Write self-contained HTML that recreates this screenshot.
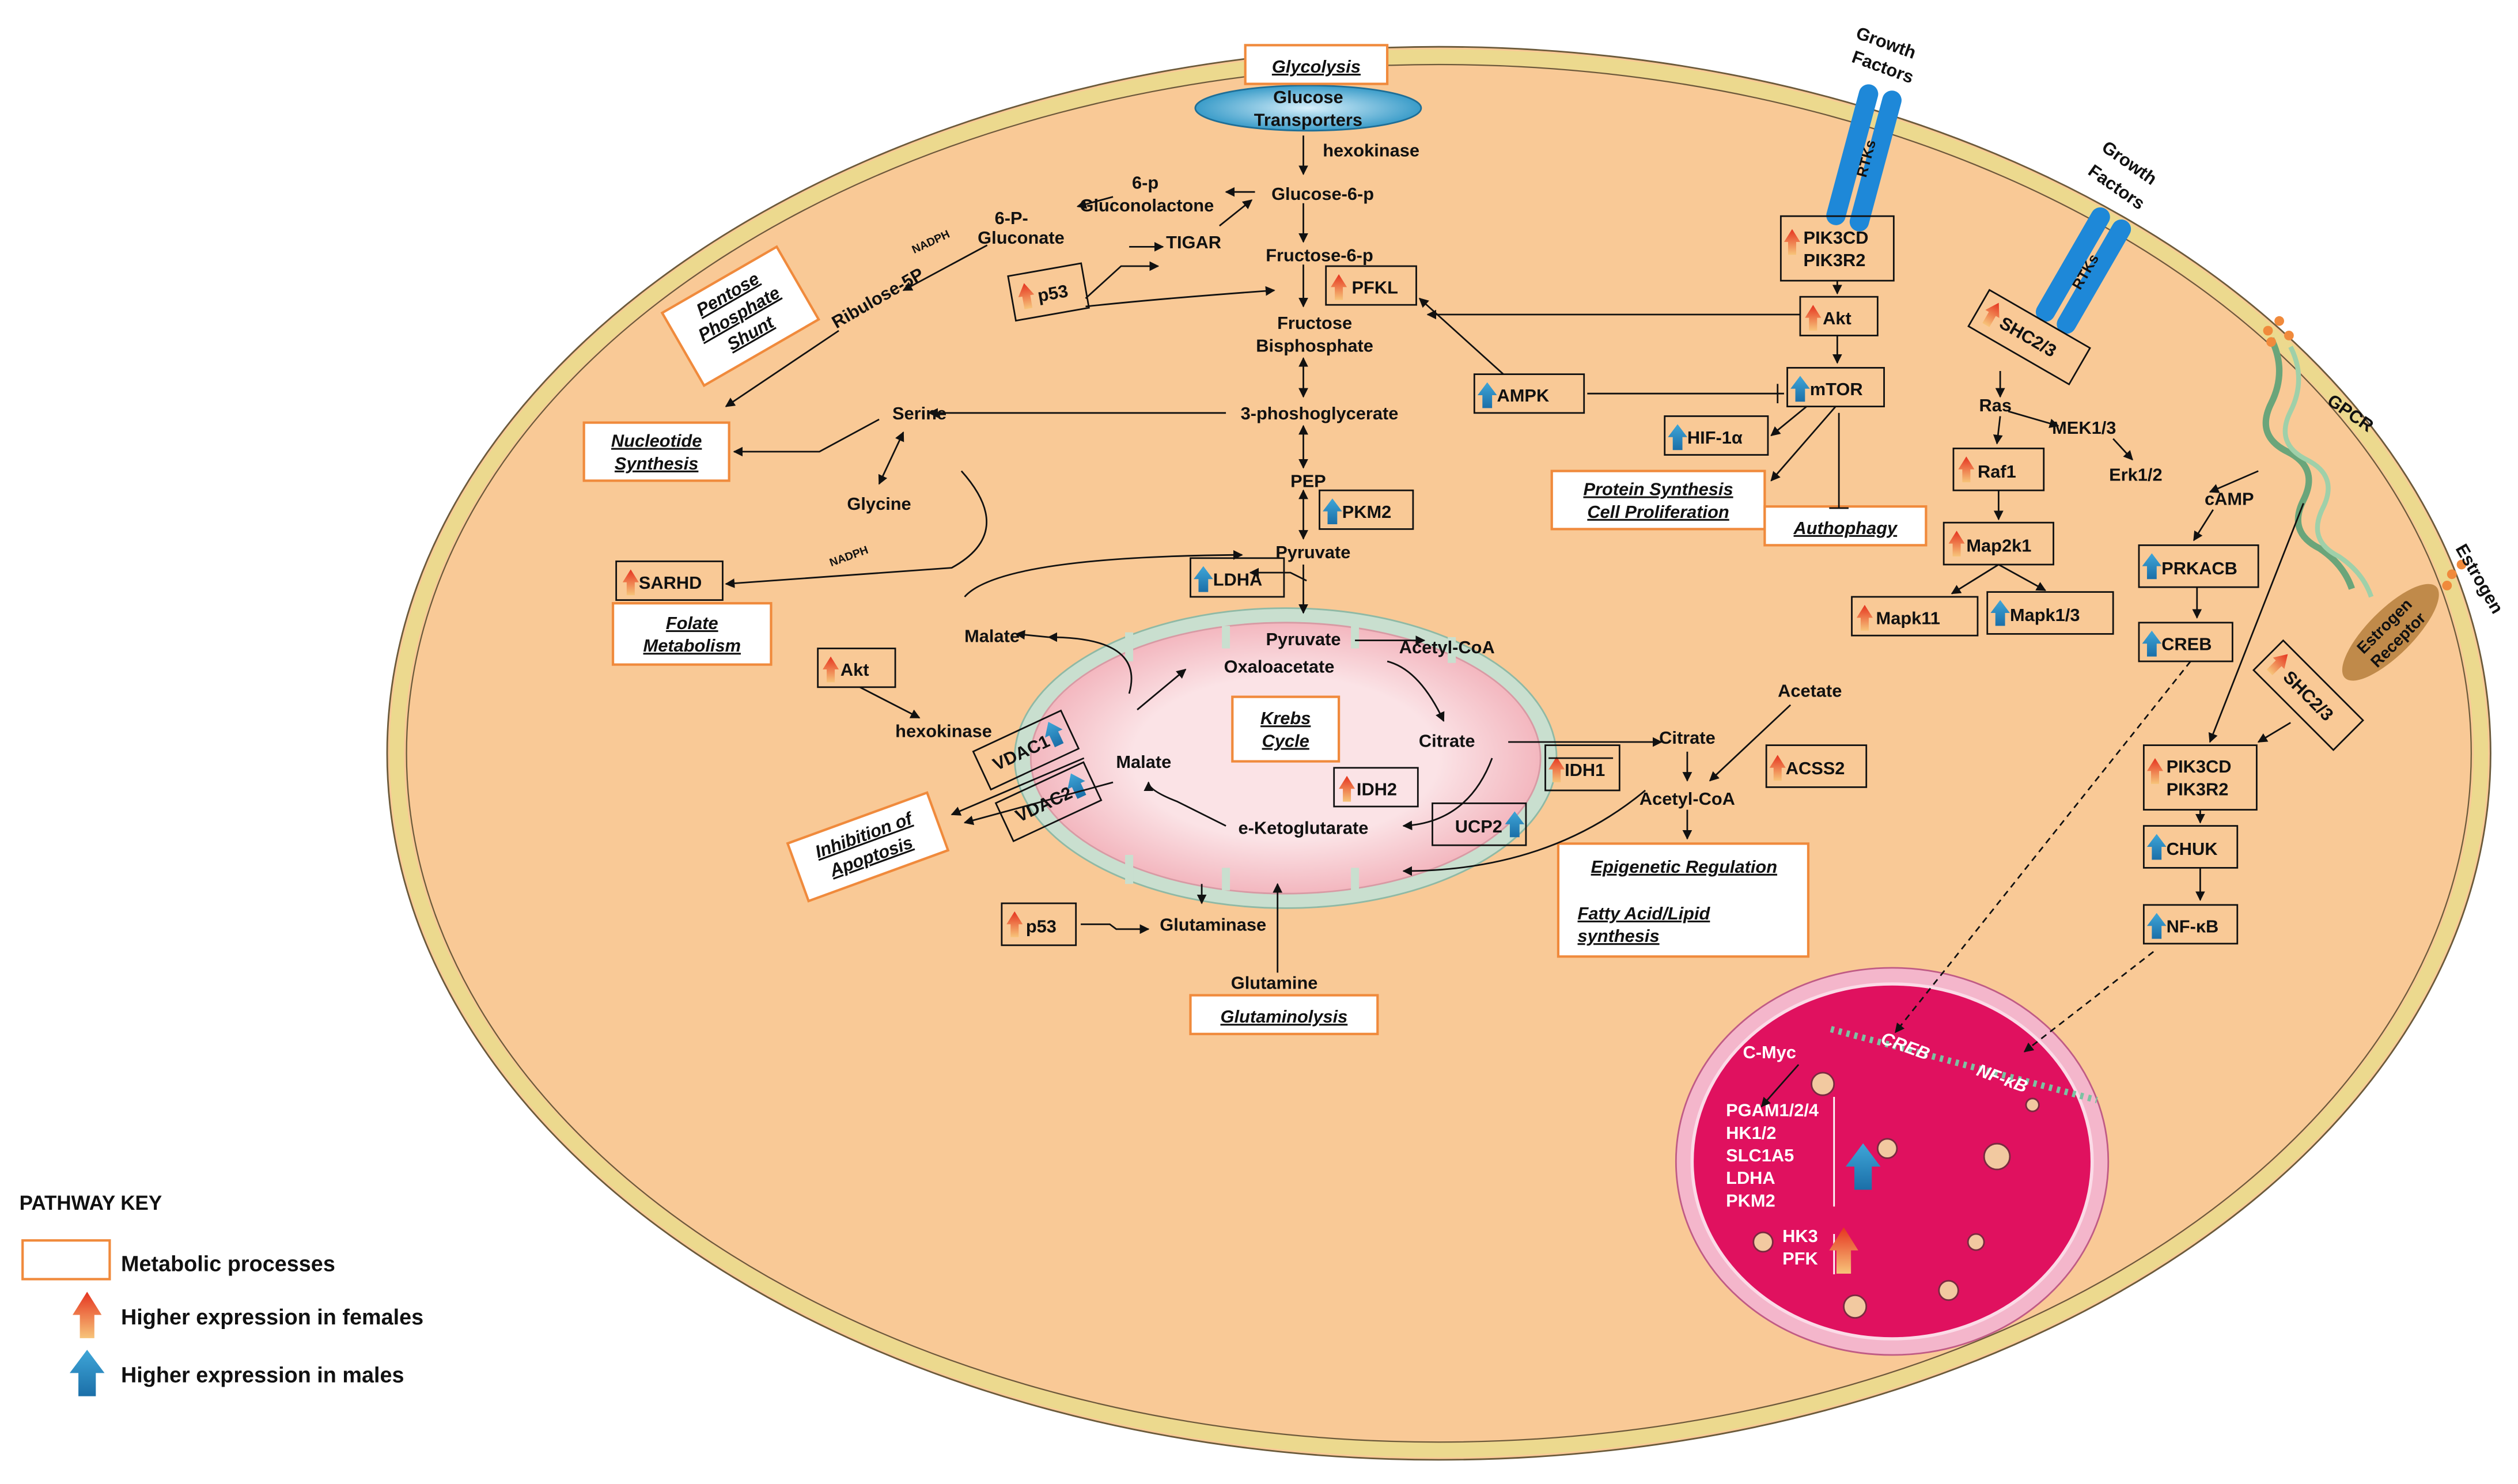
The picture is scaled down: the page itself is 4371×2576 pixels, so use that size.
<!DOCTYPE html>
<html><head><meta charset="utf-8"><style>
html,body{margin:0;padding:0;background:#fff}
svg{display:block}
text{font-family:"Liberation Sans",Arial,sans-serif;font-weight:bold;font-size:11px;fill:#111}
.u{text-decoration:underline;font-style:italic}
.w{fill:#fff}
</style></head><body>
<svg width="4371" height="2576" viewBox="0 0 1561 920" preserveAspectRatio="none" xmlns="http://www.w3.org/2000/svg">
<defs>
<marker id="a" viewBox="0 0 10 10" refX="9" refY="5" markerWidth="6" markerHeight="6" orient="auto-start-reverse"><path d="M0,0L10,5L0,10z" fill="#111"/></marker>
<linearGradient id="rg" x1="0" y1="1" x2="0" y2="0"><stop offset="0" stop-color="#f7c47a"/><stop offset="1" stop-color="#e5331f"/></linearGradient>
<linearGradient id="bg" x1="0" y1="1" x2="0" y2="0"><stop offset="0" stop-color="#1b6fa8"/><stop offset="1" stop-color="#3fa6d8"/></linearGradient>
<radialGradient id="gt"><stop offset="0" stop-color="#d8f0fb"/><stop offset="1" stop-color="#3a9cc9"/></radialGradient>
<radialGradient id="mi"><stop offset="0.6" stop-color="#fbe3e6"/><stop offset="1" stop-color="#f3b7bf"/></radialGradient>
<g id="ra"><path d="M-2.5,12V4H-5L0,-4L5,4H2.5V12z" fill="url(#rg)"/></g>
<g id="ba"><path d="M-3,12V4H-6L0,-4L6,4H3V12z" fill="url(#bg)"/></g>
</defs>
<ellipse cx="892" cy="467" rx="652" ry="438" fill="#f9c996" stroke="#6b5a3a" stroke-width="1"/>
<ellipse cx="892" cy="467" rx="646" ry="432" fill="none" stroke="#ecd98e" stroke-width="9"/>
<ellipse cx="892" cy="467" rx="640" ry="427" fill="none" stroke="#6b5a3a" stroke-width="0.8"/>
<ellipse cx="797" cy="470" rx="168" ry="93" fill="#c9dfcf" stroke="#8fb9a5" stroke-width="1"/>
<ellipse cx="797" cy="470" rx="158" ry="84" fill="url(#mi)" stroke="#d89aa4" stroke-width="1"/>
<path d="M700,392v18M760,388v14M840,388v14M900,395v16M700,548v-18M760,552v-14M840,552v-14" stroke="#c9dfcf" stroke-width="5"/>
<ellipse cx="1173" cy="720" rx="134" ry="120" fill="#f4b6cb" stroke="#c05b85" stroke-width="1"/>
<ellipse cx="1173" cy="720" rx="124" ry="110" fill="#e0115f" stroke="#fbdbe7" stroke-width="2"/>
<g fill="#f2c9a0" stroke="#7a2a40" stroke-width="1">
<circle cx="1130" cy="672" r="7"/><circle cx="1093" cy="770" r="6"/><circle cx="1170" cy="712" r="6"/><circle cx="1238" cy="717" r="8"/><circle cx="1225" cy="770" r="5"/><circle cx="1150" cy="810" r="7"/><circle cx="1208" cy="800" r="6"/><circle cx="1260" cy="685" r="4"/>
</g>
<path d="M1135,638L1300,682" stroke="#7cc2a2" stroke-width="4" stroke-dasharray="2 3"/>
<ellipse cx="811" cy="67" rx="70" ry="14" fill="url(#gt)" stroke="#1f6e96"/>
<text x="811" y="64" text-anchor="middle">Glucose</text>
<text x="811" y="78" text-anchor="middle">Transporters</text>
<g transform="translate(1156,98) rotate(15)"><rect x="-14" y="-45" width="12" height="90" rx="6" fill="#1e88d8"/><rect x="1" y="-45" width="12" height="90" rx="6" fill="#1e88d8"/><text transform="rotate(-90)" x="0" y="4" text-anchor="middle" style="font-size:9px">RTKs</text></g>
<text transform="translate(1168,30) rotate(20)" text-anchor="middle">Growth</text>
<text transform="translate(1166,45) rotate(20)" text-anchor="middle">Factors</text>
<g transform="translate(1292,168) rotate(30)"><rect x="-14" y="-40" width="12" height="80" rx="6" fill="#1e88d8"/><rect x="1" y="-40" width="12" height="80" rx="6" fill="#1e88d8"/><text transform="rotate(-90)" x="0" y="4" text-anchor="middle" style="font-size:9px">RTKs</text></g>
<text transform="translate(1318,104) rotate(35)" text-anchor="middle">Growth</text>
<text transform="translate(1310,119) rotate(35)" text-anchor="middle">Factors</text>
<path d="M1408,210 q10,20 0,40 q-10,20 10,30 q20,10 10,30 q-10,20 10,30 q15,10 20,25" stroke="#6aa57a" stroke-width="4" fill="none"/>
<path d="M1420,215 q10,20 0,40 q-10,20 10,30 q20,10 10,30 q-10,20 10,30 q15,10 20,25" stroke="#9fd0a9" stroke-width="3" fill="none"/>
<g fill="#f08a3c"><circle cx="1406" cy="205" r="3"/><circle cx="1413" cy="199" r="3"/><circle cx="1408" cy="212" r="3"/><circle cx="1419" cy="208" r="3"/><circle cx="1520" cy="356" r="3"/><circle cx="1526" cy="350" r="3"/><circle cx="1517" cy="363" r="3"/></g>
<text x="1442" y="250" transform="rotate(35 1442 250)">GPCR</text>
<text x="1522" y="340" transform="rotate(60 1522 340)">Estrogen</text>
<g transform="translate(1482,392) rotate(-45)"><ellipse rx="40" ry="14" fill="#c08a4a"/><text x="0" y="-2" text-anchor="middle" style="font-size:10px">Estrogen</text><text x="0" y="10" text-anchor="middle" style="font-size:10px">Receptor</text></g>

<g fill="#fff" stroke="#f08a3c" stroke-width="1.5">
<rect x="772" y="28" width="88" height="24"/>
<rect x="362" y="262" width="90" height="36"/>
<rect x="380" y="374" width="98" height="38"/>
<rect x="764" y="432" width="66" height="40"/>
<rect x="966" y="523" width="155" height="70"/>
<rect x="738" y="617" width="116" height="24"/>
<rect x="962" y="292" width="132" height="36"/>
<rect x="1094" y="314" width="100" height="24"/>
<rect x="14" y="769" width="54" height="24"/>
<rect x="418" y="170" width="82" height="52" transform="rotate(-30 459 196)"/>
<rect x="492" y="506" width="92" height="38" transform="rotate(-20 538 525)"/>
</g>
<text x="816" y="45" text-anchor="middle" class="u">Glycolysis</text>
<text x="407" y="277" text-anchor="middle" class="u">Nucleotide</text><text x="407" y="291" text-anchor="middle" class="u">Synthesis</text>
<text x="429" y="390" text-anchor="middle" class="u">Folate</text><text x="429" y="404" text-anchor="middle" class="u">Metabolism</text>
<text x="797" y="449" text-anchor="middle" class="u">Krebs</text><text x="797" y="463" text-anchor="middle" class="u">Cycle</text>
<text x="1044" y="541" text-anchor="middle" class="u">Epigenetic Regulation</text>
<text x="978" y="570" class="u">Fatty Acid/Lipid</text><text x="978" y="584" class="u">synthesis</text>
<text x="796" y="634" text-anchor="middle" class="u">Glutaminolysis</text>
<text x="1028" y="307" text-anchor="middle" class="u">Protein Synthesis</text><text x="1028" y="321" text-anchor="middle" class="u">Cell Proliferation</text>
<text x="1144" y="331" text-anchor="middle" class="u">Authophagy</text>
<g transform="rotate(-30 459 196)"><text x="459" y="184" text-anchor="middle" class="u">Pentose</text><text x="459" y="198" text-anchor="middle" class="u">Phosphate</text><text x="459" y="212" text-anchor="middle" class="u">Shunt</text></g>
<g transform="rotate(-20 538 525)"><text x="538" y="521" text-anchor="middle" class="u">Inhibition of</text><text x="538" y="535" text-anchor="middle" class="u">Apoptosis</text></g>

<g fill="none" stroke="#111" stroke-width="1">
<rect x="822" y="165" width="56" height="24"/>
<rect x="818" y="304" width="58" height="24"/>
<rect x="382" y="348" width="66" height="24"/>
<rect x="738" y="346" width="58" height="24"/>
<rect x="507" y="402" width="48" height="24"/>
<rect x="958" y="462" width="46" height="28"/>
<rect x="1095" y="462" width="62" height="26"/>
<rect x="827" y="476" width="52" height="24"/>
<rect x="888" y="498" width="58" height="26"/>
<rect x="621" y="560" width="46" height="26"/>
<rect x="1104" y="134" width="70" height="40"/>
<rect x="1116" y="184" width="48" height="24"/>
<rect x="1108" y="228" width="60" height="24"/>
<rect x="914" y="232" width="68" height="24"/>
<rect x="1032" y="258" width="64" height="24"/>
<rect x="1211" y="278" width="56" height="26"/>
<rect x="1205" y="324" width="68" height="26"/>
<rect x="1148" y="370" width="78" height="24"/>
<rect x="1232" y="367" width="78" height="26"/>
<rect x="1326" y="338" width="74" height="26"/>
<rect x="1326" y="386" width="58" height="24"/>
<rect x="1329" y="462" width="70" height="40"/>
<rect x="1329" y="512" width="58" height="26"/>
<rect x="1329" y="561" width="58" height="24"/>
<rect x="627" y="167" width="46" height="28" transform="rotate(-10 650 181)"/>
<rect x="1222" y="196" width="72" height="26" transform="rotate(30 1258 209)"/>
<rect x="1396" y="418" width="70" height="26" transform="rotate(45 1431 431)"/>
<rect x="606" y="452" width="60" height="26" transform="rotate(-25 636 465)"/>
<rect x="620" y="484" width="60" height="26" transform="rotate(-25 650 497)"/>
</g>
<text x="838" y="182">PFKL</text><use href="#ra" x="830" y="174"/>
<text x="832" y="321">PKM2</text><use href="#ba" x="826" y="313"/>
<text x="396" y="365">SARHD</text><use href="#ra" x="391" y="357"/>
<text x="752" y="363">LDHA</text><use href="#ba" x="746" y="355"/>
<text x="521" y="419">Akt</text><use href="#ra" x="515" y="411"/>
<text x="970" y="481">IDH1</text><use href="#ra" x="965" y="473"/>
<text x="1107" y="480">ACSS2</text><use href="#ra" x="1102" y="472"/>
<text x="841" y="493">IDH2</text><use href="#ra" x="835" y="485"/>
<text x="902" y="516">UCP2</text><use href="#ba" x="939" y="507"/>
<text x="636" y="578">p53</text><use href="#ra" x="629" y="569"/>
<text x="1118" y="151">PIK3CD</text><text x="1118" y="165">PIK3R2</text><use href="#ra" x="1111" y="146"/>
<text x="1130" y="201">Akt</text><use href="#ra" x="1124" y="193"/>
<text x="1122" y="245">mTOR</text><use href="#ba" x="1116" y="237"/>
<text x="928" y="249">AMPK</text><use href="#ba" x="922" y="241"/>
<text x="1046" y="275">HIF-1α</text><use href="#ba" x="1040" y="267"/>
<text x="1226" y="296">Raf1</text><use href="#ra" x="1219" y="287"/>
<text x="1219" y="342">Map2k1</text><use href="#ra" x="1213" y="333"/>
<text x="1163" y="387">Mapk11</text><use href="#ra" x="1156" y="379"/>
<text x="1246" y="385">Mapk1/3</text><use href="#ba" x="1240" y="376"/>
<text x="1340" y="356">PRKACB</text><use href="#ba" x="1334" y="347"/>
<text x="1340" y="403">CREB</text><use href="#ba" x="1334" y="395"/>
<text x="1343" y="479">PIK3CD</text><text x="1343" y="493">PIK3R2</text><use href="#ra" x="1336" y="474"/>
<text x="1343" y="530">CHUK</text><use href="#ba" x="1337" y="521"/>
<text x="1343" y="578">NF-κB</text><use href="#ba" x="1337" y="570"/>
<g transform="rotate(-10 650 181)"><text x="643" y="186">p53</text><use href="#ra" x="636" y="177"/></g>
<g transform="rotate(30 1258 209)"><text x="1238" y="213">SHC2/3</text><use href="#ra" x="1231" y="204"/></g>
<g transform="rotate(45 1431 431)"><text x="1412" y="435">SHC2/3</text><use href="#ra" x="1404" y="426"/></g>
<g transform="rotate(-25 636 465)"><text x="614" y="469">VDAC1</text><use href="#ba" x="656" y="459"/></g>
<g transform="rotate(-25 650 497)"><text x="628" y="501">VDAC2</text><use href="#ba" x="670" y="491"/></g>

<text x="850" y="97" text-anchor="middle">hexokinase</text>
<text x="820" y="124" text-anchor="middle">Glucose-6-p</text>
<text x="710" y="117" text-anchor="middle">6-p</text>
<text x="711" y="131" text-anchor="middle">Gluconolactone</text>
<text x="627" y="139" text-anchor="middle">6-P-</text>
<text x="633" y="151" text-anchor="middle">Gluconate</text>
<text x="578" y="152" style="font-size:7px" transform="rotate(-25 578 152)" text-anchor="middle">NADPH</text>
<text x="546" y="188" text-anchor="middle" transform="rotate(-30 546 188)">Ribulose-5P</text>
<text x="740" y="154" text-anchor="middle">TIGAR</text>
<text x="818" y="162" text-anchor="middle">Fructose-6-p</text>
<text x="815" y="204" text-anchor="middle">Fructose</text>
<text x="815" y="218" text-anchor="middle">Bisphosphate</text>
<text x="570" y="260" text-anchor="middle">Serine</text>
<text x="818" y="260" text-anchor="middle">3-phoshoglycerate</text>
<text x="545" y="316" text-anchor="middle">Glycine</text>
<text x="811" y="302" text-anchor="middle">PEP</text>
<text x="814" y="346" text-anchor="middle">Pyruvate</text>
<text x="527" y="347" style="font-size:7px" transform="rotate(-20 527 347)" text-anchor="middle">NADPH</text>
<text x="615" y="398" text-anchor="middle">Malate</text>
<text x="808" y="400" text-anchor="middle">Pyruvate</text>
<text x="897" y="405" text-anchor="middle">Acetyl-CoA</text>
<text x="793" y="417" text-anchor="middle">Oxaloacetate</text>
<text x="585" y="457" text-anchor="middle">hexokinase</text>
<text x="897" y="463" text-anchor="middle">Citrate</text>
<text x="1046" y="461" text-anchor="middle">Citrate</text>
<text x="1122" y="432" text-anchor="middle">Acetate</text>
<text x="709" y="476" text-anchor="middle">Malate</text>
<text x="1046" y="499" text-anchor="middle">Acetyl-CoA</text>
<text x="808" y="517" text-anchor="middle">e-Ketoglutarate</text>
<text x="752" y="577" text-anchor="middle">Glutaminase</text>
<text x="790" y="613" text-anchor="middle">Glutamine</text>
<text x="1237" y="255" text-anchor="middle">Ras</text>
<text x="1292" y="269" text-anchor="middle">MEK1/3</text>
<text x="1324" y="298" text-anchor="middle">Erk1/2</text>
<text x="1382" y="313" text-anchor="middle">cAMP</text>
<text x="1097" y="656" class="w" text-anchor="middle">C-Myc</text>
<text x="1070" y="692" class="w">PGAM1/2/4</text>
<text x="1070" y="706" class="w">HK1/2</text>
<text x="1070" y="720" class="w">SLC1A5</text>
<text x="1070" y="734" class="w">LDHA</text>
<text x="1070" y="748" class="w">PKM2</text>
<text x="1105" y="770" class="w">HK3</text>
<text x="1105" y="784" class="w">PFK</text>
<text x="1180" y="652" class="w" transform="rotate(20 1180 652)" text-anchor="middle" style="font-style:italic">CREB</text>
<text x="1240" y="672" class="w" transform="rotate(20 1240 672)" text-anchor="middle" style="font-style:italic">NF-κB</text>
<path d="M1137,680V748M1137,765V790" stroke="#fff" stroke-width="1"/>
<g transform="translate(1155,716) scale(1.8)"><use href="#ba"/></g>
<g transform="translate(1143,768) scale(1.8)"><use href="#ra"/></g>

<g stroke="#111" stroke-width="1" fill="none" marker-end="url(#a)">
<path d="M808,84V108"/>
<path d="M808,126V150"/>
<path d="M808,164V190"/>
<path d="M808,222V246" marker-start="url(#a)"/>
<path d="M808,264V290" marker-start="url(#a)"/>
<path d="M808,304V334" marker-start="url(#a)"/>
<path d="M808,350V380"/>
<path d="M778,119H760"/>
<path d="M690,122L668,128"/>
<path d="M612,152L560,180"/>
<path d="M700,153H721"/>
<path d="M756,140L776,124"/>
<path d="M520,205L450,252"/>
<path d="M760,256H576"/>
<path d="M545,260L508,280L455,280"/>
<path d="M560,268L545,300" marker-start="url(#a)"/>
<path d="M596,292Q630,330 590,352L450,362"/>
<path d="M673,185L695,165H718"/>
<path d="M673,190Q720,185 790,180"/>
<path d="M810,360L800,355H775"/>
<path d="M598,370Q620,345 770,344"/>
<path d="M650,395L630,393"/>
<path d="M700,430Q710,395 650,395"/>
<path d="M705,440L735,415"/>
<path d="M840,397H883"/>
<path d="M860,410Q880,415 895,447"/>
<path d="M935,460L1030,460"/>
<path d="M925,470Q910,510 870,512"/>
<path d="M760,512L730,497Q712,490 712,485"/>
<path d="M745,548V560"/>
<path d="M792,603V548"/>
<path d="M670,573H688L692,576H712"/>
<path d="M533,426L570,445"/>
<path d="M1046,466V484"/>
<path d="M1110,437L1060,484"/>
<path d="M1046,502V520"/>
<path d="M1116,195H885"/>
<path d="M932,232L880,185"/>
<path d="M1139,174V182"/>
<path d="M1139,208V225"/>
<path d="M1120,252L1098,270"/>
<path d="M1138,252L1098,298"/>
<path d="M1240,230V246"/>
<path d="M1245,255L1276,264"/>
<path d="M1310,272L1322,285"/>
<path d="M1240,258L1238,275"/>
<path d="M1239,304V322"/>
<path d="M1239,350L1210,368"/>
<path d="M1239,350L1268,366"/>
<path d="M1400,292L1370,305"/>
<path d="M1372,316L1360,335"/>
<path d="M1362,364V383"/>
<path d="M1428,312L1370,460"/>
<path d="M1420,448L1400,460"/>
<path d="M1364,502V510"/>
<path d="M1364,538V558"/>
<path d="M1358,410L1175,640" stroke-dasharray="4 3"/>
<path d="M1335,590L1255,652" stroke-dasharray="4 3"/>
<path d="M1115,660L1092,686"/>
<path d="M1000,470L960,470" marker-end="none"/>
<path d="M1020,490Q960,540 870,540"/>
<path d="M672,470L590,505"/>
<path d="M690,485L598,510"/>
</g>
<g stroke="#111" stroke-width="1" fill="none">
<path d="M984,244H1106M1102,238V250"/>
<path d="M1140,256L1140,315M1134,315H1146"/>
</g>

<text x="12" y="750" style="font-size:12.5px">PATHWAY KEY</text>
<text x="75" y="788" style="font-size:13.5px">Metabolic processes</text>
<g transform="translate(54,808) scale(1.8)"><use href="#ra"/></g>
<text x="75" y="821" style="font-size:13.5px">Higher expression in females</text>
<g transform="translate(54,844) scale(1.8)"><use href="#ba"/></g>
<text x="75" y="857" style="font-size:13.5px">Higher expression in males</text>
</svg>
</body></html>
